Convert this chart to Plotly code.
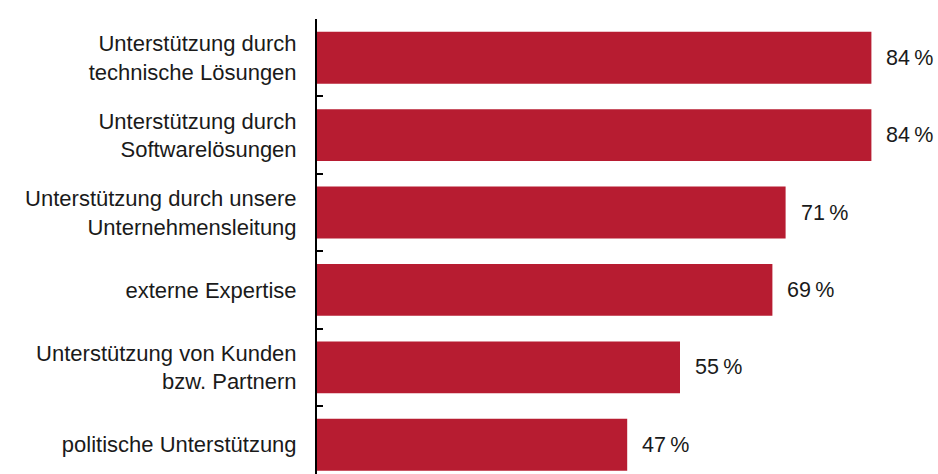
import plotly.graph_objects as go

# Survey result: kinds of support, share of respondents in percent
categories = [
    "Unterstützung durch<br>technische Lösungen",
    "Unterstützung durch<br>Softwarelösungen",
    "Unterstützung durch unsere<br>Unternehmensleitung",
    "externe Expertise",
    "Unterstützung von Kunden<br>bzw. Partnern",
    "politische Unterstützung",
]
values = [84, 84, 71, 69, 55, 47]

BAR_COLOR = "#B71C31"
TEXT_COLOR = "#1a1a1a"
FONT = "Liberation Sans, Arial, sans-serif"

fig = go.Figure(
    go.Bar(
        x=values,
        y=categories,
        orientation="h",
        marker=dict(color=BAR_COLOR, line=dict(width=0)),
        hoverinfo="skip",
    )
)

# Value labels to the right of each bar
for cat, val in zip(categories, values):
    fig.add_annotation(
        x=val,
        y=cat,
        text=f"{val}\u2009%",
        showarrow=False,
        xanchor="left",
        yanchor="middle",
        xshift=13,
        font=dict(family=FONT, size=21.5, color=TEXT_COLOR),
    )

fig.update_layout(
    width=938,
    height=474,
    margin=dict(l=317, r=27, t=19, b=0),
    paper_bgcolor="white",
    plot_bgcolor="white",
    bargap=0.33,
    showlegend=False,
    font=dict(family=FONT, size=22, color=TEXT_COLOR),
    xaxis=dict(
        range=[0, 90],
        visible=False,
        showgrid=False,
        zeroline=False,
    ),
    yaxis=dict(
        type="category",
        categoryorder="array",
        categoryarray=categories,
        range=[5.378, -0.5],
        showline=True,
        linecolor="black",
        linewidth=2,
        ticks="inside",
        tickson="boundaries",
        ticklen=6,
        tickwidth=1.5,
        tickcolor="black",
        ticklabelstandoff=14,
        showgrid=False,
        zeroline=False,
        tickfont=dict(family=FONT, size=22, color=TEXT_COLOR),
    ),
)

fig.write_html("out.html")
